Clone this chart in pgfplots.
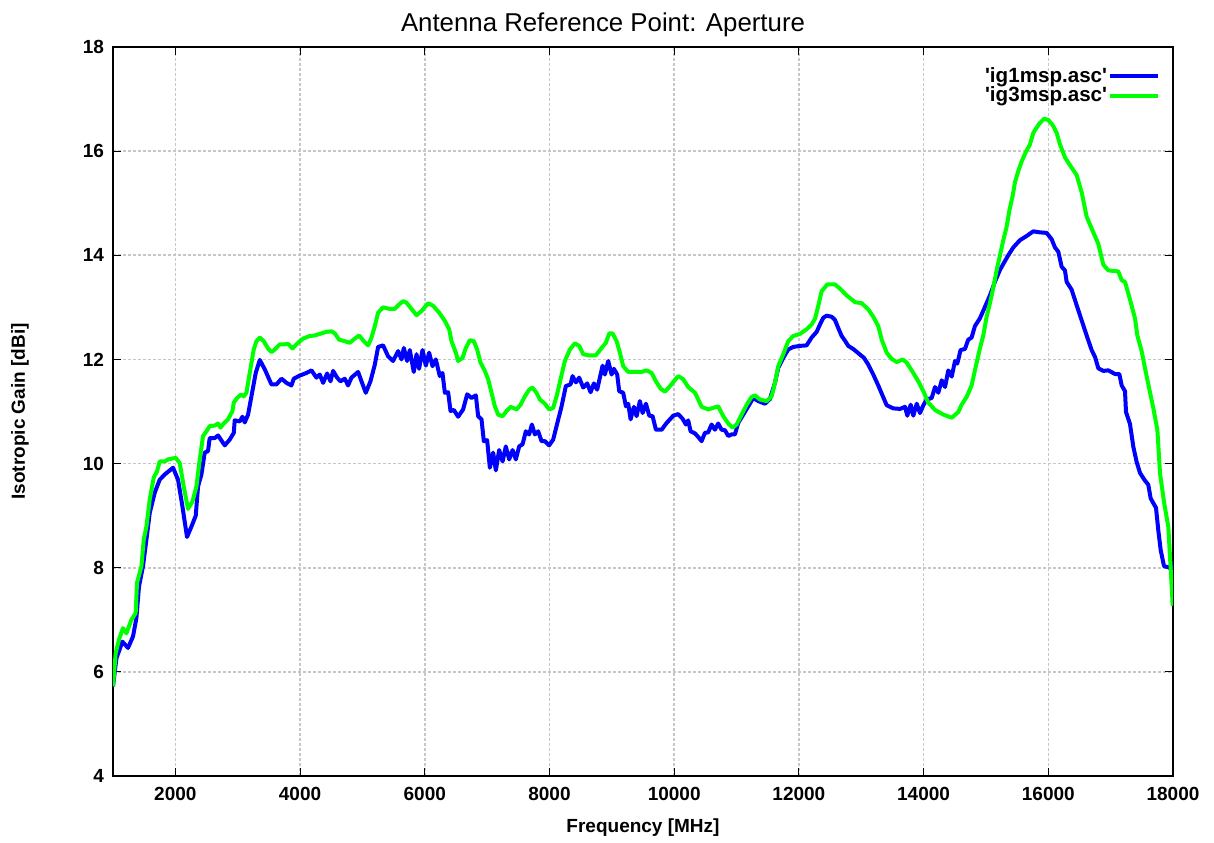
\documentclass[border=0pt]{standalone}
\usepackage{pgfplots}
\pgfplotsset{compat=1.18}
\usepackage{fontspec}
\setmainfont{Liberation Sans}
\definecolor{gpblue}{RGB}{0,0,255}
\definecolor{gpgreen}{RGB}{0,255,0}
\begin{document}
\begin{tikzpicture}
\begin{axis}[
  name=ax,
  scale only axis,
  width=530pt, height=364.5pt,
  xmin=1000, xmax=18000, ymin=4, ymax=18,
  xtick={2000,4000,6000,8000,10000,12000,14000,16000,18000},
  ytick={4,6,8,10,12,14,16,18},
  scaled x ticks=false,
  scaled y ticks=false,
  /pgf/number format/assume math mode=true,
  /pgf/number format/1000 sep={},
  tick label style={font=\fontsize{9.5}{11}\selectfont\bfseries},
  xticklabel style={yshift=-2pt},
  yticklabel style={xshift=-1pt},
  tick align=inside,
  major tick length=4pt,
  tick style={black, line width=0.5pt},
  axis line style={black, line width=0.7pt},
  grid=major,
  major grid style={black!22, dash pattern=on 1.5pt off 1pt, line width=0.8pt},
  xlabel={Frequency [MHz]},
  ylabel={Isotropic Gain [dBi]},
  every axis x label/.style={at={(axis description cs:0.5,0)}, yshift=-26pt, anchor=center, font=\fontsize{9.5}{11}\selectfont\bfseries},
  every axis y label/.style={at={(axis description cs:0,0.5)}, xshift=-46.5pt, rotate=90, anchor=center, font=\fontsize{9.5}{11}\selectfont\bfseries},
  title={Antenna Reference Point: Aperture},
  every axis title/.style={at={(axis description cs:0.5,1)}, xshift=-20pt, yshift=11pt, anchor=center, font=\fontsize{12.9}{14}\selectfont},
  legend style={at={(axis description cs:0.988,0.974)}, anchor=north east, draw=none, fill=none, font=\fontsize{10.3}{11}\selectfont\bfseries, row sep=0pt, inner sep=0pt, nodes={inner sep=0.4pt}},
  legend cell align=right,
  legend plot pos=right,
  legend image code/.code={\path (0pt,0pt) -- (24pt,0pt); \draw[#1] (4.5pt,0pt) -- (24pt,0pt);},
]
\addplot[gpblue, line width=2pt, line join=round] table {
1000 5.72
1055 6.26
1151 6.58
1241 6.46
1321 6.68
1375 7.03
1417 7.64
1481 8.03
1536 8.54
1589 9.05
1669 9.44
1749 9.69
1829 9.79
1963 9.92
2043 9.69
2113 9.18
2187 8.59
2258 8.79
2327 9.0
2364 9.56
2418 9.79
2471 10.21
2524 10.24
2551 10.49
2632 10.49
2685 10.54
2792 10.35
2872 10.46
2937 10.59
2952 10.83
3033 10.81
3076 10.9
3113 10.79
3166 10.94
3220 11.29
3289 11.74
3354 11.99
3434 11.81
3541 11.52
3621 11.52
3702 11.63
3782 11.55
3862 11.5
3899 11.63
3995 11.69
4103 11.74
4183 11.79
4263 11.65
4316 11.71
4370 11.55
4434 11.73
4488 11.58
4530 11.78
4594 11.65
4648 11.58
4717 11.63
4770 11.5
4824 11.65
4931 11.76
4985 11.58
5054 11.36
5129 11.58
5199 11.9
5252 12.24
5332 12.27
5412 12.06
5492 11.97
5573 12.16
5627 12.0
5664 12.22
5717 11.97
5760 12.18
5824 11.76
5868 12.1
5909 11.82
5964 12.18
6017 11.88
6070 12.13
6124 11.87
6177 12.0
6241 11.68
6284 11.74
6322 11.36
6375 11.37
6413 11.01
6466 11.03
6535 10.9
6615 11.04
6680 11.33
6750 11.26
6819 11.31
6856 10.91
6910 10.85
6947 10.43
7000 10.45
7044 9.92
7097 10.21
7140 9.87
7193 10.26
7248 10.04
7300 10.33
7353 10.08
7408 10.26
7461 10.08
7514 10.33
7568 10.37
7621 10.62
7674 10.56
7718 10.75
7766 10.56
7819 10.62
7873 10.43
7926 10.43
7995 10.35
8059 10.46
8114 10.72
8194 11.1
8263 11.49
8338 11.52
8370 11.68
8424 11.56
8476 11.65
8541 11.46
8605 11.54
8659 11.37
8712 11.54
8765 11.42
8808 11.65
8852 11.88
8889 11.71
8942 11.97
8996 11.71
9033 11.82
9086 11.71
9118 11.39
9182 11.36
9226 11.1
9263 11.15
9301 10.85
9354 11.09
9397 10.91
9450 11.2
9494 10.97
9547 11.15
9600 10.92
9654 10.91
9707 10.65
9798 10.65
9879 10.78
9985 10.92
10065 10.95
10135 10.86
10188 10.75
10225 10.83
10263 10.62
10333 10.58
10386 10.51
10440 10.43
10493 10.59
10546 10.6
10600 10.75
10653 10.65
10706 10.77
10760 10.65
10814 10.64
10867 10.53
10921 10.56
10974 10.56
11027 10.78
11108 10.94
11188 11.1
11268 11.26
11348 11.2
11456 11.15
11536 11.24
11616 11.55
11669 11.84
11749 12.03
11829 12.19
11910 12.24
12017 12.26
12124 12.27
12204 12.42
12285 12.53
12338 12.67
12391 12.8
12445 12.84
12525 12.82
12578 12.76
12632 12.6
12686 12.45
12739 12.36
12792 12.26
12872 12.2
12953 12.12
13044 12.03
13113 11.9
13193 11.71
13273 11.5
13344 11.3
13408 11.12
13514 11.06
13622 11.05
13702 11.09
13739 10.92
13793 11.13
13835 10.92
13890 11.15
13942 10.97
13996 11.12
14050 11.23
14130 11.26
14183 11.47
14236 11.36
14291 11.6
14344 11.47
14396 11.79
14451 11.67
14504 11.97
14540 11.92
14593 12.18
14663 12.2
14716 12.38
14770 12.42
14823 12.64
14904 12.79
14984 13.01
15064 13.23
15144 13.49
15225 13.72
15305 13.89
15358 14.0
15438 14.15
15545 14.29
15652 14.37
15759 14.46
15866 14.44
15973 14.43
16053 14.31
16107 14.15
16160 14.07
16214 13.78
16267 13.71
16294 13.49
16374 13.34
16455 13.04
16535 12.75
16615 12.46
16695 12.18
16749 12.05
16802 11.83
16882 11.78
16963 11.79
17070 11.72
17139 11.72
17177 11.5
17230 11.39
17246 10.99
17310 10.76
17364 10.32
17417 10.03
17471 9.82
17535 9.7
17604 9.59
17642 9.33
17727 9.15
17765 8.71
17802 8.34
17856 8.03
17925 8.01
17979 7.97
18000 8.1
};
\addlegendentry{\textquotesingle ig1msp.asc\textquotesingle}
\addplot[gpgreen, line width=2pt, line join=round] table {
1000 5.72
1043 6.36
1096 6.62
1160 6.84
1215 6.74
1295 7.0
1364 7.13
1385 7.71
1456 8.03
1493 8.54
1536 8.79
1589 9.31
1653 9.73
1706 9.85
1749 10.04
1829 10.04
1882 10.08
2006 10.11
2070 10.01
2134 9.56
2203 9.13
2274 9.27
2338 9.56
2391 10.08
2444 10.53
2498 10.62
2551 10.72
2632 10.73
2685 10.77
2723 10.69
2776 10.77
2845 10.85
2916 11.01
2937 11.17
2989 11.26
3060 11.33
3097 11.29
3140 11.36
3193 11.74
3257 12.19
3300 12.35
3354 12.42
3418 12.35
3487 12.21
3541 12.14
3594 12.19
3674 12.29
3755 12.29
3808 12.3
3878 12.21
3968 12.32
4048 12.4
4156 12.45
4236 12.46
4289 12.48
4343 12.5
4423 12.53
4504 12.54
4557 12.5
4626 12.38
4717 12.35
4797 12.32
4878 12.4
4947 12.46
5022 12.35
5091 12.27
5146 12.42
5199 12.64
5252 12.9
5332 13.0
5439 12.97
5519 12.97
5573 13.04
5653 13.12
5707 13.09
5787 12.97
5868 12.85
5948 12.93
6054 13.08
6134 13.03
6230 12.9
6322 12.74
6391 12.58
6429 12.35
6498 12.13
6535 11.97
6606 12.03
6659 12.22
6723 12.37
6787 12.35
6840 12.19
6894 11.94
6963 11.78
7016 11.62
7071 11.36
7124 11.1
7177 10.94
7248 10.91
7312 11.01
7376 11.09
7472 11.04
7536 11.13
7605 11.29
7674 11.42
7728 11.46
7792 11.36
7846 11.23
7926 11.15
7995 11.04
8059 11.07
8114 11.29
8178 11.62
8247 11.97
8327 12.19
8407 12.31
8476 12.26
8541 12.1
8621 12.08
8744 12.08
8836 12.22
8905 12.32
8958 12.5
9012 12.5
9077 12.35
9129 12.13
9182 11.87
9263 11.76
9343 11.76
9477 11.76
9558 11.79
9638 11.74
9707 11.58
9782 11.44
9851 11.38
9920 11.47
9995 11.58
10065 11.68
10145 11.62
10225 11.47
10333 11.36
10386 11.23
10440 11.09
10546 11.04
10626 11.07
10706 11.1
10787 10.91
10867 10.77
10937 10.69
11001 10.75
11082 10.94
11162 11.13
11242 11.28
11295 11.31
11375 11.23
11483 11.2
11563 11.29
11616 11.55
11669 11.87
11749 12.1
11829 12.35
11910 12.45
12017 12.49
12124 12.58
12204 12.67
12258 12.78
12311 13.03
12365 13.31
12455 13.44
12578 13.44
12659 13.36
12766 13.23
12900 13.1
13007 13.08
13113 12.96
13193 12.82
13273 12.64
13328 12.38
13408 12.13
13488 12.01
13568 11.95
13665 12.0
13729 11.94
13835 11.74
13915 11.58
13996 11.39
14075 11.17
14183 11.03
14316 10.94
14451 10.88
14556 10.99
14610 11.13
14690 11.28
14770 11.5
14823 11.79
14893 12.16
14957 12.46
15011 12.82
15064 13.08
15118 13.38
15171 13.71
15225 14.0
15278 14.29
15332 14.55
15374 14.85
15428 15.14
15465 15.4
15519 15.62
15572 15.8
15642 15.99
15706 16.13
15759 16.35
15850 16.52
15930 16.62
16000 16.6
16070 16.5
16134 16.35
16187 16.13
16267 15.88
16348 15.73
16455 15.54
16535 15.21
16615 14.74
16722 14.44
16802 14.22
16882 13.82
16963 13.71
17123 13.69
17177 13.52
17230 13.49
17310 13.15
17390 12.79
17428 12.46
17497 12.16
17551 11.83
17620 11.43
17685 11.06
17749 10.65
17792 9.81
17856 9.26
17925 8.78
17963 7.97
17995 7.27
};
\addlegendentry{\textquotesingle ig3msp.asc\textquotesingle}
\end{axis}
\pgfresetboundingbox
\path[use as bounding box] (ax.south west) ++(-56.5pt,-33pt) rectangle ++(607pt,421pt);
\end{tikzpicture}
\end{document}
